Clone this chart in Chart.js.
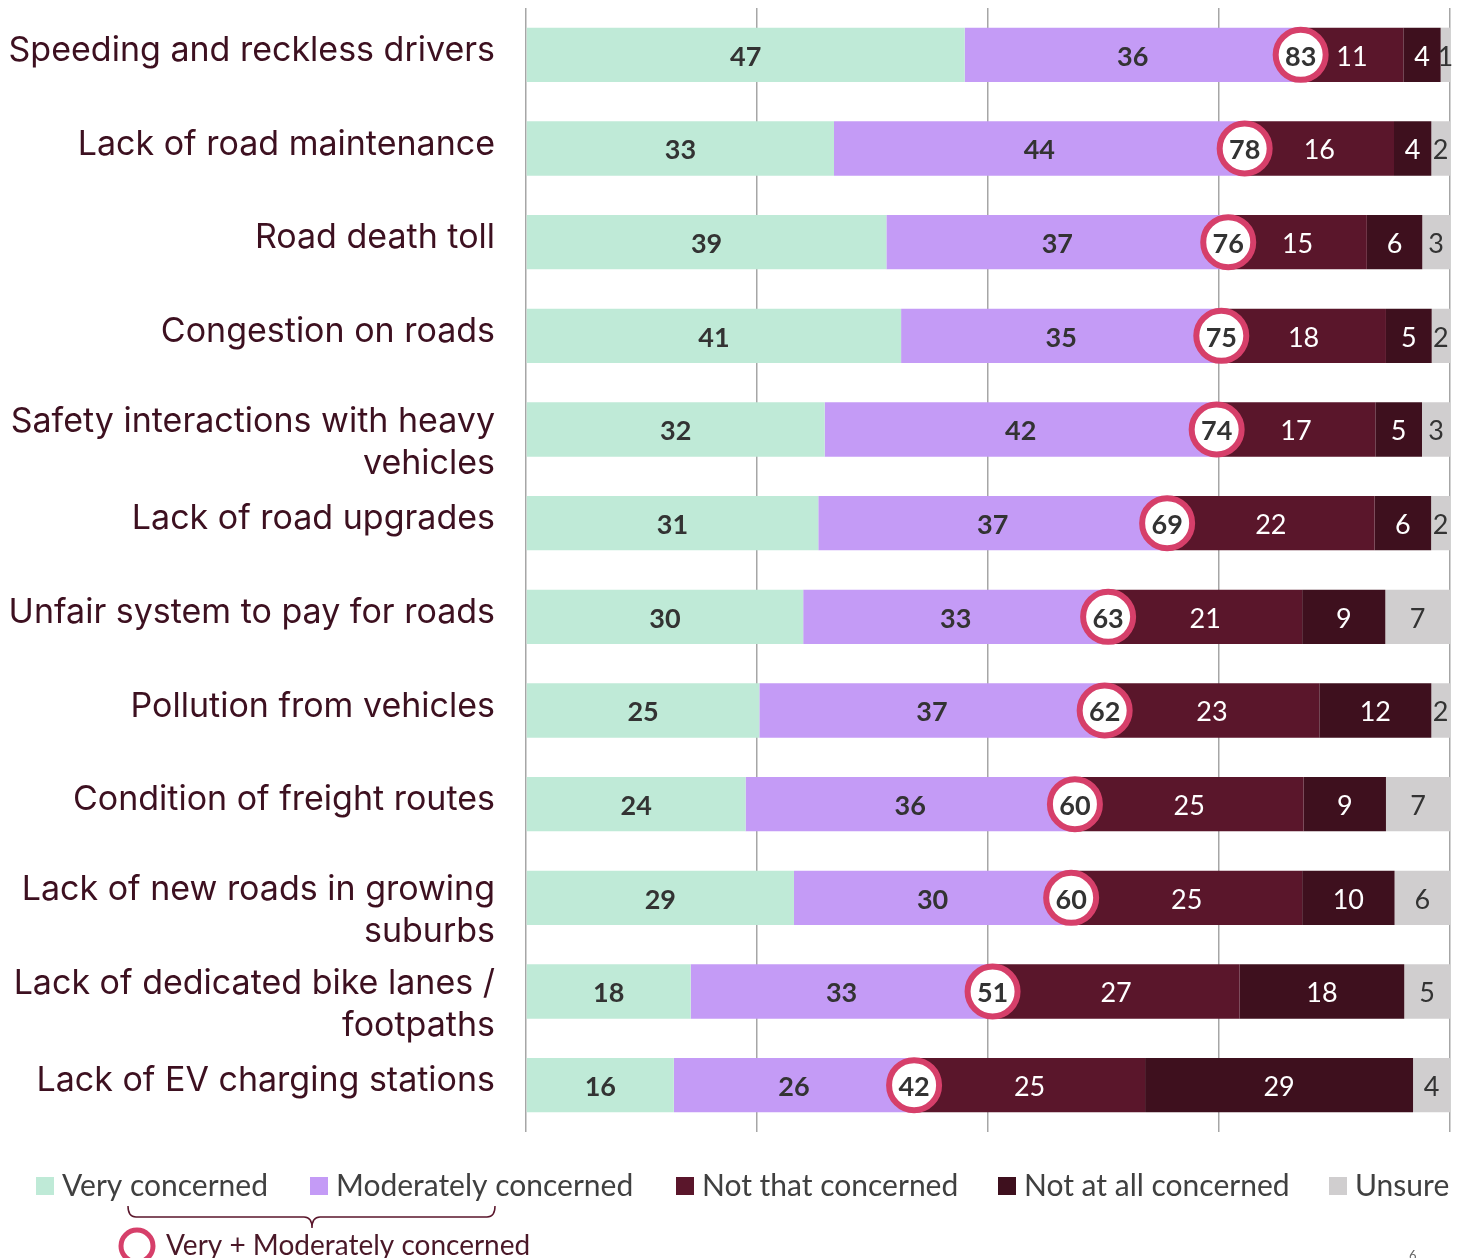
<!DOCTYPE html>
<html>
<head>
<meta charset="utf-8">
<script src="https://cdn.jsdelivr.net/npm/chart.js@4/dist/chart.umd.min.js"></script>
<style>
html, body { margin: 0; padding: 0; background: #fff; }
</style>
</head>
<body>
<canvas id="chart-area" width="1461" height="1258"></canvas>
<script>
/* data */
var categories = [
    "Speeding and reckless drivers",
    "Lack of road maintenance",
    "Road death toll",
    "Congestion on roads",
    ["Safety interactions with heavy", "vehicles"],
    "Lack of road upgrades",
    "Unfair system to pay for roads",
    "Pollution from vehicles",
    "Condition of freight routes",
    ["Lack of new roads in growing", "suburbs"],
    ["Lack of dedicated bike lanes /", "footpaths"],
    "Lack of EV charging stations"
];
var seriesNames = ["Very concerned", "Moderately concerned", "Not that concerned", "Not at all concerned", "Unsure"];
var veryConcerned = [47, 33, 39, 41, 32, 31, 30, 25, 24, 29, 18, 16];
var moderatelyConcerned = [36, 44, 37, 35, 42, 37, 33, 37, 36, 30, 33, 26];
var notThatConcerned = [11, 16, 15, 18, 17, 22, 21, 23, 25, 25, 27, 25];
var notAtAllConcerned = [4, 4, 6, 5, 5, 6, 9, 12, 9, 10, 18, 29];
var unsure = [1, 2, 3, 2, 3, 2, 7, 2, 7, 6, 5, 4];
var veryPlusModerately = [83, 78, 76, 75, 74, 69, 63, 62, 60, 60, 51, 42];
var xTicks = [0, 25, 50, 75, 100];

var colors = ["#bfead7", "#c49bf6", "#5a162b", "#3e101e", "#d0cecf"];
var labelStyles = [
    { color: "#333333", bold: true },
    { color: "#333333", bold: true },
    { color: "#ffffff", bold: false },
    { color: "#ffffff", bold: false },
    { color: "#333333", bold: false }
];
var ringColor = "#d63f6a";

var allSeries = [veryConcerned, moderatelyConcerned, notThatConcerned, notAtAllConcerned, unsure];

// the bars in the picture are shares of each row's total (rows fill to 100)
var rowTotals = categories.map(function (c, i) {
    return allSeries.reduce(function (s, d) { return s + d[i]; }, 0);
});

var categoryLabels = {
    id: 'categoryLabels',
    afterDraw: function (chart) {
        var ctx = chart.ctx;
        var ys = chart.scales.y;
        ctx.save();
        ctx.font = '34px Inter';
        ctx.fillStyle = '#3d1020';
        ctx.textAlign = 'right';
        ctx.textBaseline = 'middle';
        categories.forEach(function (c, i) {
            var y = ys.getPixelForTick(i);
            var lines = Array.isArray(c) ? c : [c];
            var y0 = lines.length > 1 ? y - 8 : y - 4;
            lines.forEach(function (t, k) {
                ctx.fillText(t, 495, y0 + k * 42);
            });
        });
        ctx.restore();
    }
};

var barLabels = {
    id: 'barLabels',
    afterDatasetsDraw: function (chart) {
        var ctx = chart.ctx;
        ctx.save();
        ctx.textAlign = 'center';
        ctx.textBaseline = 'middle';
        allSeries.forEach(function (d, di) {
            var meta = chart.getDatasetMeta(di);
            var st = labelStyles[di];
            ctx.fillStyle = st.color;
            ctx.font = (st.bold ? 'bold ' : '') + '27px Lato';
            meta.data.forEach(function (bar, i) {
                ctx.fillText(d[i], (bar.x + bar.base) / 2, bar.y + 2);
            });
        });
        // circles with the very + moderately totals, at the end of the purple part
        var meta1 = chart.getDatasetMeta(1);
        veryPlusModerately.forEach(function (v, i) {
            var x = meta1.data[i].x;
            var y = meta1.data[i].y;
            ctx.beginPath();
            ctx.arc(x, y, 25, 0, Math.PI * 2);
            ctx.fillStyle = '#ffffff';
            ctx.fill();
            ctx.lineWidth = 6;
            ctx.strokeStyle = ringColor;
            ctx.stroke();
            ctx.fillStyle = '#333333';
            ctx.font = 'bold 27px Lato';
            ctx.fillText(v, x, y + 2);
        });
        ctx.restore();
    }
};

var customLegend = {
    id: 'customLegend',
    afterDraw: function (chart) {
        var ctx = chart.ctx;
        var boxX = [36, 310, 676, 998, 1329];
        ctx.save();
        ctx.font = '30px Lato';
        ctx.textBaseline = 'middle';
        ctx.textAlign = 'left';
        seriesNames.forEach(function (name, i) {
            ctx.fillStyle = colors[i];
            ctx.fillRect(boxX[i], 1177, 18, 18);
            ctx.fillStyle = '#404040';
            ctx.fillText(name, boxX[i] + 26, 1186);
        });
        // bracket under the first two entries
        ctx.strokeStyle = '#5a162b';
        ctx.lineWidth = 1.5;
        ctx.beginPath();
        ctx.moveTo(128, 1206);
        ctx.quadraticCurveTo(128, 1217, 136, 1217);
        ctx.lineTo(304, 1217);
        ctx.quadraticCurveTo(312, 1217, 312, 1228);
        ctx.quadraticCurveTo(312, 1217, 320, 1217);
        ctx.lineTo(487, 1217);
        ctx.quadraticCurveTo(495, 1217, 495, 1206);
        ctx.stroke();
        // ring legend
        ctx.beginPath();
        ctx.arc(137, 1246, 16, 0, Math.PI * 2);
        ctx.lineWidth = 5;
        ctx.strokeStyle = ringColor;
        ctx.stroke();
        ctx.fillStyle = '#4a1828';
        ctx.font = '28px Lato';
        ctx.fillText('Very + Moderately concerned', 166, 1246);
        ctx.fillStyle = '#666666';
        ctx.font = '13px Lato';
        ctx.fillText('6', 1409, 1256);
        ctx.restore();
    }
};

var config = {
    type: 'bar',
    data: {
        labels: categories,
        datasets: allSeries.map(function (d, i) {
            return {
                label: seriesNames[i],
                data: d.map(function (v, j) { return v / rowTotals[j] * 100; }),
                backgroundColor: colors[i],
                borderWidth: 0,
                barPercentage: 0.58,
                categoryPercentage: 1
            };
        })
    },
    options: {
        indexAxis: 'y',
        responsive: false,
        animation: false,
        layout: {
            padding: { top: 8, right: 11, bottom: 126, left: 0 }
        },
        plugins: {
            legend: { display: false },
            tooltip: { enabled: false }
        },
        scales: {
            x: {
                stacked: true,
                min: 0,
                max: 100,
                afterBuildTicks: function (scale) {
                    scale.ticks = xTicks.map(function (v) { return { value: v }; });
                },
                ticks: { display: false },
                grid: { color: '#a6a6a6', lineWidth: 1.5, drawTicks: false },
                border: { display: false }
            },
            y: {
                stacked: true,
                afterFit: function (scale) {
                    scale.width = 526;
                    scale.paddingTop = 0;
                    scale.paddingBottom = 0;
                },
                grid: { display: false, drawTicks: false },
                border: { display: false },
                ticks: { display: false }
            }
        }
    },
    plugins: [barLabels, categoryLabels, customLegend]
};

var ctx = document.getElementById("chart-area").getContext("2d");
var myChart = new Chart(ctx, config);
</script>
</body>
</html>
